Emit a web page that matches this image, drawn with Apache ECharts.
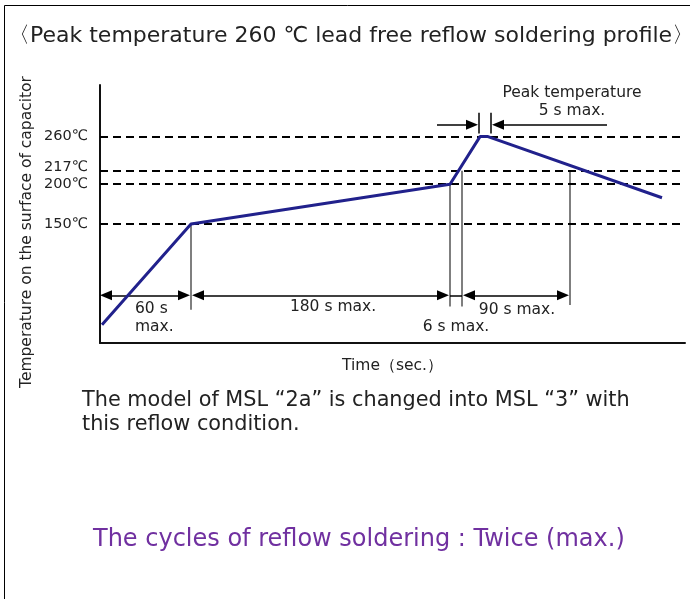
<!DOCTYPE html>
<html><head><meta charset="utf-8">
<script src="https://cdn.jsdelivr.net/npm/echarts@6/dist/echarts.min.js"></script>
<style>html,body{margin:0;padding:0;background:#fff}#c{width:690px;height:599px}</style>
</head><body><div id="c"></div>
<script>
// Profile curve (schematic time units, temperature in ℃)
const profileTime = [2, 91, 350, 380, 388, 562];
const profileTemp = [23, 150, 200, 260, 260, 183];
// Reference temperatures (dashed lines / y labels)
const refTemps = [150, 200, 217, 260];
// Dimension extension lines: [time, topTemp, bottomTemp]
const extLines = [[91, 150, 42], [350, 200, 46], [362, 217, 46], [470, 217, 48]];
// Dimension arrows (double headed) at temp level 60: [from, to] (arrow tips)
const dimLevel = 60;
const dimArrows = [[0, 90], [92, 349], [363, 469]];
const dimPlain = [[350, 362]];
// Peak 5 s markers
const peakLevel = 275;
const peakTicks = [379, 391];
const peakTickRange = [264, 290];
const peakArrows = [[337, 378], [507, 392]];

const chart = echarts.init(document.getElementById('c'), null, {renderer: 'canvas'});
const FONT = 'DejaVu Sans';
const ARROW_LEN = 12;
const curveData = profileTime.map((t, i) => [t, profileTemp[i]]);

const series = [{
  type: 'line', data: curveData, symbol: 'none', silent: true,
  lineStyle: {color: '#21218c', width: 3}, z: 5,
  markLine: {
    silent: true, symbol: ['none', 'none'], animation: false,
    lineStyle: {color: '#000', width: 2, type: [8, 5]},
    label: {show: false},
    data: refTemps.map(v => ({yAxis: v}))
  }
}];
// extension lines
extLines.forEach(e => series.push({
  type: 'line', data: [[e[0], e[1]], [e[0], e[2]]], symbol: 'none', silent: true,
  lineStyle: {color: '#555', width: 1.5}, z: 3
}));
// arrows: shift endpoints so that the triangle tips land on the given values
const h = ARROW_LEN / 2;
const dir = (a, b) => (b > a ? 1 : -1);
series.push({
  type: 'line', data: [], silent: true,
  markLine: {
    silent: true, animation: false,
    symbol: ['triangle', 'triangle'], symbolSize: [10, ARROW_LEN],
    lineStyle: {color: '#000', width: 1.5, type: 'solid'},
    itemStyle: {color: '#000'},
    label: {show: false},
    data: dimArrows.map(a => [{coord: [a[0] + h * dir(a[0], a[1]), dimLevel]}, {coord: [a[1] - h * dir(a[0], a[1]), dimLevel]}])
      .concat(dimPlain.map(a => [{coord: [a[0], dimLevel], symbol: 'none'}, {coord: [a[1], dimLevel], symbol: 'none'}]))
      .concat(peakArrows.map(a => [{coord: [a[0], peakLevel], symbol: 'none'}, {coord: [a[1] - h * dir(a[0], a[1]), peakLevel]}]))
  }
});
peakTicks.forEach(t => series.push({
  type: 'line', data: [[t, peakTickRange[0]], [t, peakTickRange[1]]], symbol: 'none', silent: true,
  lineStyle: {color: '#000', width: 1.5}
}));

const txt = (x, y, text, size, opts) => Object.assign({
  type: 'text', x: x, y: y,
  style: Object.assign({text: text, font: size + 'px "' + FONT + '"', fill: '#222', align: 'left', verticalAlign: 'middle'}, (opts && opts.style) || {})
}, opts && opts.el || {});

chart.setOption({
  animation: false,
  grid: {left: 100, top: 85, right: 5, bottom: 256, containLabel: false},
  xAxis: {
    type: 'value', min: 0, max: 585,
    name: 'Time（sec.）', nameLocation: 'middle', nameGap: 15,
    nameTextStyle: {fontFamily: FONT, fontSize: 15.5, color: '#222'},
    axisLine: {show: true, lineStyle: {color: '#111', width: 2}},
    axisTick: {show: false}, axisLabel: {show: false}, splitLine: {show: false}
  },
  yAxis: {
    type: 'value', min: 0, max: 325,
    axisLine: {show: true, onZero: false, lineStyle: {color: '#111', width: 2}},
    axisTick: {show: false}, splitLine: {show: false},
    axisLabel: {show: true, customValues: refTemps, margin: 12,
      formatter: v => (v === 217 ? '{up|' + v + '℃}' : v + '℃'),
      rich: {up: {fontFamily: FONT, fontSize: 14.5, color: '#222', padding: [0, 0, 7, 0]}},
      fontFamily: FONT, fontSize: 14.5, color: '#222'}
  },
  series: series,
  graphic: [
    {type: 'line', shape: {x1: 4.5, y1: 5.5, x2: 690, y2: 5.5}, style: {stroke: '#000', lineWidth: 1}},
    {type: 'line', shape: {x1: 4.5, y1: 5.5, x2: 4.5, y2: 599}, style: {stroke: '#000', lineWidth: 1}},
    txt(8, 36, '〈Peak temperature 260 ℃ lead free reflow soldering profile〉', 22),
    txt(27, 232, 'Temperature on the surface of capacitor', 15.5, {style: {align: 'center'}, el: {rotation: Math.PI / 2}}),
    txt(572, 93, 'Peak temperature', 15.5, {style: {align: 'center'}}),
    txt(572, 111, '5 s max.', 15.5, {style: {align: 'center'}}),
    txt(135, 309, '60 s', 15.5),
    txt(135, 327, 'max.', 15.5),
    txt(333, 307, '180 s max.', 15.5, {style: {align: 'center'}}),
    txt(456, 327, '6 s max.', 15.5, {style: {align: 'center'}}),
    txt(517, 310, '90 s max.', 15.5, {style: {align: 'center'}}),
    txt(82, 401, 'The model of MSL “2a” is changed into MSL “3” with', 20.8),
    txt(82, 425, 'this reflow condition.', 20.8),
    txt(93, 540, 'The cycles of reflow soldering : Twice (max.)', 24, {style: {fill: '#7030a0'}})
  ]
});
</script></body></html>
